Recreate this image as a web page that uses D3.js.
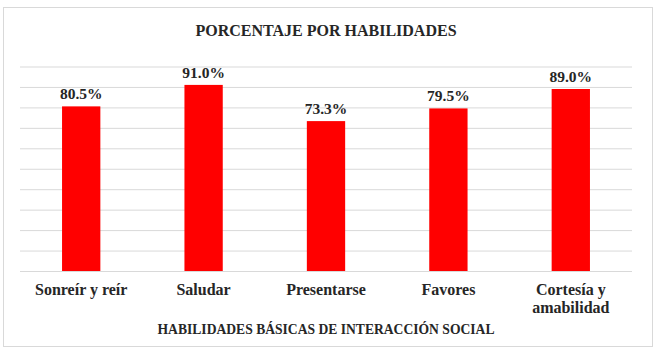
<!DOCTYPE html>
<html lang="es">
<head>
<meta charset="UTF-8">
<title>Porcentaje por habilidades</title>
<style>
  body { margin: 0; background: #fff; }
  svg text { font-family: "Liberation Serif", "DejaVu Serif", serif; font-weight: bold; fill: #262626; }
  .grid line { stroke: #d9d9d9; stroke-width: 1px; }
  .grid path { display: none; }
</style>
</head>
<body>
<svg width="657" height="350"></svg>
<script src="https://cdn.jsdelivr.net/npm/d3@7"></script>
<script>
  const categories = ["Sonreír y reír", "Saludar", "Presentarse", "Favores", "Cortesía y amabilidad"];
  const values = [0.805, 0.91, 0.733, 0.795, 0.89];
  const gridTicks = [0, 0.1, 0.2, 0.3, 0.4, 0.5, 0.6, 0.7, 0.8, 0.9, 1.0];

  const svg = d3.select("svg");

  // chart frame
  svg.append("rect")
     .attr("x", 3.5).attr("y", 7.5)
     .attr("width", 649).attr("height", 339)
     .attr("fill", "#fff")
     .attr("stroke", "#d9d9d9");

  const x = d3.scaleBand()
              .domain(categories)
              .range([20, 632])
              .paddingInner(0.687)
              .paddingOuter(0.3435);

  const y = d3.scaleLinear()
              .domain([0, 1])
              .range([271, 66.5]);

  // horizontal gridlines
  svg.append("g")
     .attr("class", "grid")
     .attr("transform", "translate(20,0)")
     .call(d3.axisLeft(y).tickValues(gridTicks).tickSize(-612).tickFormat(""));

  // bars
  svg.selectAll(".bar")
     .data(values)
     .enter()
     .append("rect")
     .attr("class", "bar")
     .attr("x", (d, i) => x(categories[i]))
     .attr("y", d => y(d))
     .attr("width", x.bandwidth())
     .attr("height", d => y(0) - y(d))
     .attr("fill", "#ff0000");

  // value labels
  svg.selectAll(".val")
     .data(values)
     .enter()
     .append("text")
     .attr("class", "val")
     .attr("x", (d, i) => x(categories[i]) + x.bandwidth() / 2)
     .attr("y", d => y(d) - 7)
     .attr("text-anchor", "middle")
     .style("font-size", "15.5px")
     .text(d => d3.format(".1%")(d));

  // category labels, wrapped like the original
  const lines = { "Cortesía y amabilidad": ["Cortesía y", "amabilidad"] };
  const cat = svg.selectAll(".cat")
     .data(categories)
     .enter()
     .append("text")
     .attr("class", "cat")
     .attr("text-anchor", "middle")
     .style("font-size", "16px")
     .attr("transform", d => `translate(${x(d) + x.bandwidth() / 2},295)`);

  cat.selectAll("tspan")
     .data(d => lines[d] || [d])
     .enter()
     .append("tspan")
     .attr("x", 0)
     .attr("dy", (d, i) => i ? 17.5 : 0)
     .text(d => d);

  // titles
  svg.append("text")
     .attr("x", 326)
     .attr("y", 36)
     .attr("text-anchor", "middle")
     .style("font-size", "16px")
     .text("PORCENTAJE POR HABILIDADES");

  svg.append("text")
     .attr("x", 326)
     .attr("y", 334)
     .attr("text-anchor", "middle")
     .style("font-size", "13.6px")
     .text("HABILIDADES BÁSICAS DE INTERACCIÓN SOCIAL");
</script>
</body>
</html>
